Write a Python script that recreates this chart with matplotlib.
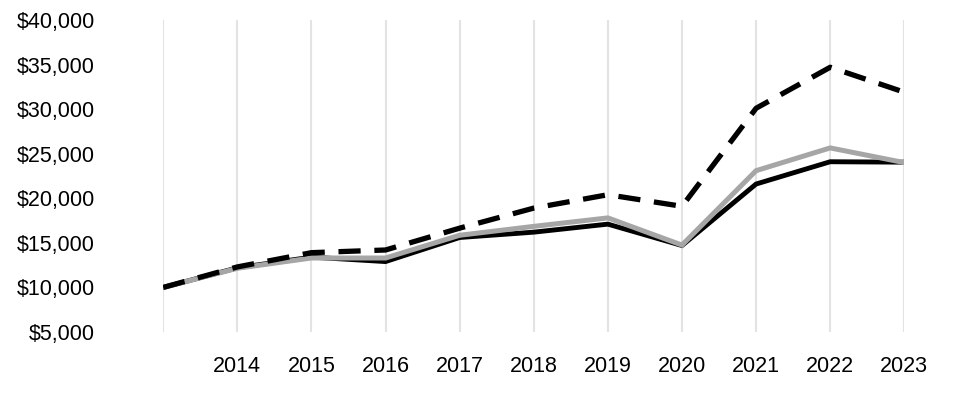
import matplotlib.pyplot as plt

years = [2013, 2014, 2015, 2016, 2017, 2018, 2019, 2020, 2021, 2022, 2023]
year_labels = ["", "2014", "2015", "2016", "2017", "2018", "2019", "2020", "2021", "2022", "2023"]

# three growth-of-$10,000 series
fund_black = [10000, 12200, 13400, 12900, 15600, 16200, 17100, 14700, 21600, 24100, 24050]
index_gray = [10000, 12150, 13300, 13300, 15850, 16850, 17800, 14750, 23100, 25650, 24000]
index_dashed = [10000, 12300, 13900, 14200, 16650, 18900, 20400, 19100, 30100, 34700, 31900]

y_ticks = [5000, 10000, 15000, 20000, 25000, 30000, 35000, 40000]

plt.rcParams["font.family"] = ["Liberation Sans", "DejaVu Sans"]

fig = plt.figure(figsize=(9.6, 4), dpi=100)
ax = fig.add_axes([0.17, 0.17, 0.772, 0.78])

ax.plot(years, fund_black, color="black", linewidth=3.5, solid_joinstyle="miter", zorder=3)
ax.plot(years, index_gray, color="#a6a6a6", linewidth=3.6, solid_joinstyle="miter", zorder=4)
ax.plot(years, index_dashed, color="black", linewidth=3.8, dashes=(4.2, 2.6), zorder=5)

ax.set_xlim(2013, 2023)
ax.set_ylim(5000, 40000)
ax.set_xticks(years)
ax.set_xticklabels(year_labels)
ax.set_yticks(y_ticks)
ax.set_yticklabels([f"${v:,}" for v in y_ticks])

ax.grid(axis="x", color="#e3e3e3", linewidth=1.5, zorder=0)
ax.grid(axis="y", visible=False)
for s in ax.spines.values():
    s.set_visible(False)
ax.tick_params(axis="both", length=0, labelsize=15.5)
ax.tick_params(axis="y", pad=49)
ax.tick_params(axis="x", pad=17)

plt.savefig("out.png", dpi=100)
